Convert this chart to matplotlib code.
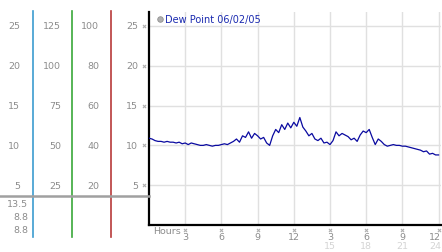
import matplotlib.pyplot as plt
import matplotlib.transforms as mtransforms

W, H = 442, 253

# dew point readings, every 15 minutes from 0h to 24h
hours = [i * 0.25 for i in range(97)]
dew_point = [
    10.9, 10.8, 10.6, 10.5,
    10.5, 10.4, 10.5, 10.4,
    10.4, 10.3, 10.4, 10.2,
    10.3, 10.1, 10.3, 10.2,
    10.1, 10.0, 10.0, 10.1,
    10.0, 9.9, 10.0, 10.0,
    10.1, 10.2, 10.1, 10.3,
    10.5, 10.8, 10.4, 11.2,
    11.0, 11.7, 10.9, 11.5,
    11.2, 10.8, 11.0, 10.3,
    10.0, 11.2, 12.0, 11.6,
    12.6, 12.0, 12.8, 12.2,
    12.9, 12.4, 13.5, 12.3,
    11.8, 11.2, 11.5, 10.8,
    10.6, 10.9, 10.3, 10.4,
    10.1, 10.6, 11.7, 11.2,
    11.5, 11.3, 11.1, 10.7,
    10.9, 10.5, 11.3, 11.8,
    11.6, 12.0, 11.0, 10.1,
    10.8, 10.5, 10.1, 9.9,
    10.0, 10.1, 10.0, 10.0,
    9.9, 9.9, 9.8, 9.7,
    9.6, 9.5, 9.4, 9.2,
    9.3, 8.9, 9.0, 8.8,
    8.8,
]

y_ticks = [5, 10, 15, 20, 25]
col_a = ["5", "10", "15", "20", "25"]
col_b = ["25", "50", "75", "100", "125"]
col_c = ["20", "40", "60", "80", "100"]
col_d = ["5", "10", "15", "20", "25"]

x_ticks = [3, 6, 9, 12, 15, 18, 21, 24]
x_labels = ["3", "6", "9", "12", "3", "6", "9", "12"]
x_labels2 = ["", "", "", "", "15", "18", "21", "24"]

stats = ["13.5", "8.8", "8.8"]
legend_label = "Dew Point 06/02/05"


def fx(px):
    return px / W


def fy(py):
    return 1 - py / H


fig = plt.figure(figsize=(W / 100, H / 100), dpi=100)
ax = fig.add_axes([fx(149), fy(226), fx(441) - fx(149), fy(13) - fy(226)])

ax.plot(hours, dew_point, color="#0a0aa0", lw=0.9, zorder=3)
ax.set_xlim(0, 24.2)
ax.set_ylim(0, 26.75)

ax.set_yticks(y_ticks)
ax.set_xticks(x_ticks)
ax.grid(True, color="#e0e0e0", lw=1.0)
ax.tick_params(length=0, labelleft=False, labelbottom=False)
for s in ["top", "right"]:
    ax.spines[s].set_visible(False)
for s in ["left", "bottom"]:
    ax.spines[s].set_color("black")
    ax.spines[s].set_linewidth(1.6)

gray = "#8c8c8c"
fs = 6.8

# left columns of scale labels
tr_y = mtransforms.blended_transform_factory(fig.transFigure, ax.transData)
for col, xr in [(col_a, 20), (col_b, 61), (col_c, 99), (col_d, 138)]:
    for v, lab in zip(y_ticks, col):
        fig.text(fx(xr), v, lab, transform=tr_y, ha="right", va="center",
                 fontsize=fs, color=gray)
ax.scatter([-0.017] * len(y_ticks), y_ticks, marker="x", s=5, lw=0.8,
           color="#b0b0b0", clip_on=False,
           transform=mtransforms.blended_transform_factory(ax.transAxes, ax.transData))

# coloured separators
for xp, c in [(33, "#3c9cd0"), (72, "#3aa83a"), (111, "#b83a3a")]:
    fig.add_artist(plt.Line2D([fx(xp), fx(xp)], [fy(12), fy(238)],
                              color=c, lw=1.2, transform=fig.transFigure))
fig.add_artist(plt.Line2D([0, fx(149)], [fy(197), fy(197)], color="#a0a0a0",
                          lw=1.8, transform=fig.transFigure))

for s, py in zip(stats, [205, 218, 231]):
    fig.text(fx(28), fy(py), s, ha="right", va="center", fontsize=fs, color=gray)

# x axis labels
tr_x = mtransforms.blended_transform_factory(ax.transData, fig.transFigure)
ax.scatter(x_ticks, [fy(231)] * len(x_ticks), marker="x", s=5, lw=0.8,
           color="#b0b0b0", clip_on=False, transform=tr_x)
for i, (xv, l1, l2) in enumerate(zip(x_ticks, x_labels, x_labels2)):
    last = i == len(x_ticks) - 1
    if last:
        tr, xpos, ha = fig.transFigure, fx(441), "right"
    else:
        tr, xpos, ha = tr_x, xv, "center"
    fig.text(xpos, fy(238), l1, transform=tr, ha=ha, va="center",
             fontsize=fs, color=gray)
    if l2:
        fig.text(xpos, fy(247), l2, transform=tr, ha=ha, va="center",
                 fontsize=fs, color="#d4d4d4")
fig.text(fx(153), fy(232), "Hours", ha="left", va="center", fontsize=fs, color=gray)

# legend
fig.add_artist(plt.Line2D([fx(160)], [fy(20)], marker="o", ms=4, color="#b0b0b0",
                          mec="#909090", mew=0.6, transform=fig.transFigure))
fig.text(fx(165), fy(20), legend_label, ha="left", va="center", fontsize=7,
         color="#1a2ab0")

fig.savefig("out.png", dpi=100)
